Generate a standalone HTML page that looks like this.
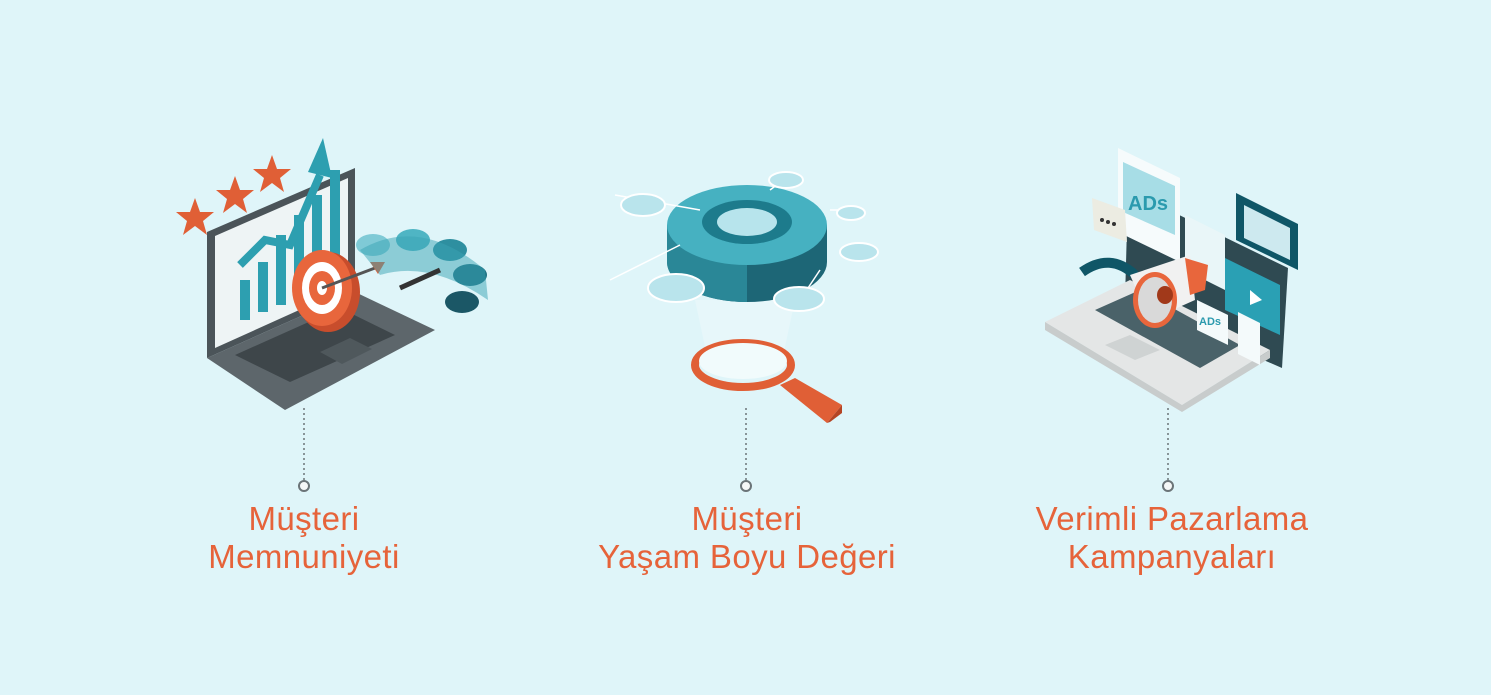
<!DOCTYPE html>
<html><head><meta charset="utf-8"><style>
html,body{margin:0;padding:0;}
body{width:1491px;height:695px;background:#dff5f9;position:relative;overflow:hidden;font-family:"Liberation Sans",sans-serif;}
.lbl{position:absolute;color:#e6633a;font-size:33px;line-height:38px;letter-spacing:0.4px;text-align:center;width:440px;}
svg{position:absolute;left:0;top:0;}
</style></head><body>
<svg width="1491" height="695" viewBox="0 0 1491 695">
<g stroke="#6b7478" stroke-width="1.5" stroke-dasharray="2,3" fill="none">
<line x1="304" y1="408" x2="304" y2="480"/>
<line x1="746" y1="408" x2="746" y2="480"/>
<line x1="1168" y1="408" x2="1168" y2="480"/>
</g>
<g fill="#f5f7f7" stroke="#6b7478" stroke-width="2">
<circle cx="304" cy="486" r="5"/><circle cx="746" cy="486" r="5"/><circle cx="1168" cy="486" r="5"/>
</g>

<!-- Illustration 1 -->
<polygon points="207,232 355,168 355,292 207,358" fill="#4b5459"/>
<polygon points="215,236 348,178 348,288 215,348" fill="#eef4f5"/>
<polygon points="207,358 355,292 435,330 285,410" fill="#5d666b"/>
<polygon points="235,355 340,308 395,335 290,382" fill="#3e464a"/>
<polygon points="320,352 350,338 372,349 342,364" fill="#4f585c"/>
<g fill="#2d9fb0">
<rect x="240" y="280" width="10" height="40"/><rect x="258" y="262" width="10" height="50"/><rect x="276" y="235" width="10" height="70"/><rect x="294" y="215" width="10" height="80"/><rect x="312" y="195" width="10" height="70"/><rect x="330" y="170" width="10" height="90"/>
</g>
<polyline points="240,265 265,240 290,245 320,175" stroke="#2d9fb0" stroke-width="8" fill="none"/>
<polygon points="308,172 323,138 332,178" fill="#2d9fb0"/>
<g fill="#e05f36">
<polygon points="195,198 200,212 214,212 203,221 207,235 195,226 183,235 187,221 176,212 190,212"/>
<polygon points="235,176 240,190 254,190 243,199 247,213 235,204 223,213 227,199 216,190 230,190"/>
<polygon points="272,155 277,169 291,169 280,178 284,192 272,183 260,192 264,178 253,169 267,169"/>
</g>
<ellipse cx="328" cy="292" rx="32" ry="40" fill="#c84d2c"/>
<ellipse cx="322" cy="288" rx="30" ry="38" fill="#e8663c"/>
<ellipse cx="322" cy="288" rx="20" ry="26" fill="#fff"/>
<ellipse cx="322" cy="288" rx="13" ry="17" fill="#e8663c"/>
<ellipse cx="322" cy="288" rx="5" ry="7" fill="#fff"/>
<line x1="322" y1="288" x2="375" y2="268" stroke="#555" stroke-width="3"/>
<polygon points="370,262 385,262 378,274" fill="#e05f36"/>
<g>
<ellipse cx="373" cy="245" rx="17" ry="11" fill="#7fcad6"/>
<ellipse cx="413" cy="240" rx="17" ry="11" fill="#4fb5c4"/>
<ellipse cx="450" cy="250" rx="17" ry="11" fill="#2e8fa0"/>
<ellipse cx="470" cy="275" rx="17" ry="11" fill="#1f6f80"/>
<ellipse cx="462" cy="302" rx="17" ry="11" fill="#1b5766"/>
<path d="M360,250 Q420,215 485,270 L488,300 Q430,260 380,275 Z" fill="#3aa3b4" opacity="0.5"/>
<line x1="400" y1="288" x2="440" y2="270" stroke="#333" stroke-width="5"/>
</g>

<!-- Illustration 2 -->
<polygon points="695,300 795,300 780,370 710,370" fill="#e9f7fa" opacity="0.8"/>
<path d="M667,225 L667,262 A80,40 0 0 0 827,262 L827,225 Z" fill="#1d6676"/>
<path d="M667,225 L667,262 A80,40 0 0 0 747,302 L747,265 Z" fill="#2a8797"/>
<ellipse cx="747" cy="225" rx="80" ry="40" fill="#46b1c1"/>
<ellipse cx="747" cy="222" rx="45" ry="22" fill="#1d7b8c"/>
<ellipse cx="747" cy="222" rx="30" ry="14" fill="#b7e4ec"/>
<g stroke="#fff" stroke-width="1.5">
<line x1="615" y1="195" x2="700" y2="210"/><line x1="610" y1="280" x2="680" y2="245"/><line x1="790" y1="175" x2="770" y2="190"/><line x1="830" y1="210" x2="860" y2="210"/><line x1="820" y1="270" x2="800" y2="300"/>
</g>
<g fill="#b9e4ec" stroke="#fff" stroke-width="2">
<ellipse cx="643" cy="205" rx="22" ry="11"/><ellipse cx="786" cy="180" rx="17" ry="8"/><ellipse cx="851" cy="213" rx="14" ry="7"/><ellipse cx="859" cy="252" rx="19" ry="9"/><ellipse cx="676" cy="288" rx="28" ry="14"/><ellipse cx="799" cy="299" rx="25" ry="12"/>
</g>
<ellipse cx="743" cy="365" rx="48" ry="22" fill="none" stroke="#e05f36" stroke-width="8"/>
<ellipse cx="743" cy="361" rx="44" ry="18" fill="#f1fbfc"/>
<polygon points="780,385 795,378 842,405 827,423" fill="#e05f36"/>
<polygon points="827,423 842,405 842,413 830,422" fill="#b44424"/>

<!-- Illustration 3 -->
<polygon points="1128,190 1288,268 1282,368 1125,300" fill="#2f4a52"/>
<polygon points="1045,322 1130,280 1270,350 1182,405" fill="#e4e6e6"/>
<polygon points="1045,322 1182,405 1270,350 1270,358 1182,412 1045,330" fill="#c8cccc"/>
<polygon points="1095,310 1140,290 1240,345 1200,368" fill="#2f4a52" opacity="0.85"/>
<polygon points="1105,345 1130,335 1160,350 1135,360" fill="#cfd3d3"/>
<polygon points="1118,148 1180,178 1180,262 1118,232" fill="#f6fbfc"/>
<polygon points="1123,162 1175,186 1175,235 1123,212" fill="#a7dde6"/>
<text x="1128" y="210" font-family="Liberation Sans" font-weight="bold" font-size="20" fill="#2b9aae">ADs</text>
<polygon points="1185,215 1225,235 1225,290 1185,270" fill="#e9f6f8"/>
<polygon points="1225,258 1280,285 1280,335 1225,310" fill="#2aa0b4"/>
<polygon points="1250,290 1262,300 1250,305" fill="#fff"/>
<polygon points="1236,193 1298,224 1298,270 1236,240" fill="#0f5667"/>
<polygon points="1244,205 1290,228 1290,260 1244,238" fill="#cde9ef"/>
<polygon points="1092,198 1125,210 1127,242 1094,230" fill="#ecece2"/>
<circle cx="1102" cy="220" r="2" fill="#333"/><circle cx="1108" cy="222" r="2" fill="#333"/><circle cx="1114" cy="224" r="2" fill="#333"/>
<polygon points="1197,300 1228,315 1228,345 1197,330" fill="#f4fafb"/>
<text x="1199" y="325" font-family="Liberation Sans" font-weight="bold" font-size="11" fill="#2b9aae">ADs</text>
<polygon points="1238,312 1260,323 1260,365 1238,354" fill="#f4fafb"/>
<path d="M1082,272 Q1110,252 1135,275" stroke="#0f5667" stroke-width="10" fill="none"/>
<polygon points="1130,275 1190,255 1195,300 1150,320" fill="#f1f1f1"/>
<ellipse cx="1155" cy="300" rx="22" ry="28" fill="#e8663c"/>
<ellipse cx="1155" cy="300" rx="17" ry="23" fill="#d9d9d9"/>
<ellipse cx="1165" cy="295" rx="8" ry="9" fill="#a1391a"/>
<polygon points="1185,258 1208,265 1205,290 1190,295" fill="#e8663c"/>
</svg>
<div class="lbl" style="left:84px;top:500px;">Müşteri<br>Memnuniyeti</div>
<div class="lbl" style="left:527px;top:500px;">Müşteri<br>Yaşam Boyu Değeri</div>
<div class="lbl" style="left:952px;top:500px;">Verimli Pazarlama<br>Kampanyaları</div>
</body></html>
